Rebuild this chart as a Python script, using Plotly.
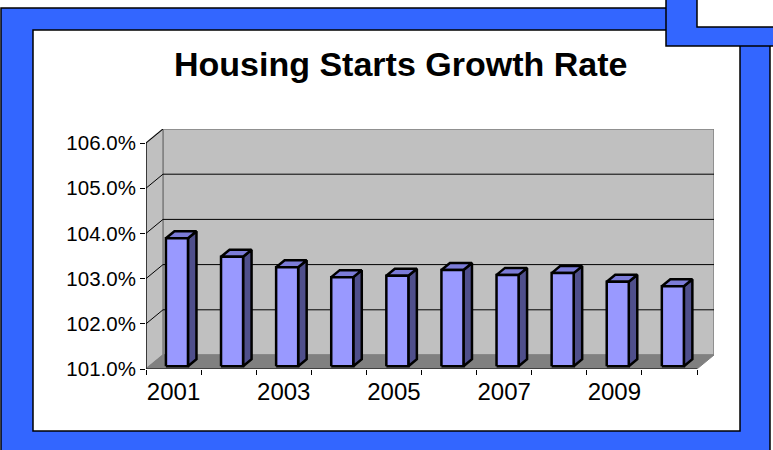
import plotly.graph_objects as go

# ---- data -------------------------------------------------------------
years = ["2001", "2002", "2003", "2004", "2005", "2006", "2007", "2008", "2009", "2010"]
growth = [103.83, 103.42, 103.19, 102.97, 103.00, 103.13, 103.02, 103.06, 102.87, 102.77]
y_ticks = [101, 102, 103, 104, 105, 106]
y_tick_text = [f"{v:.1f}%" for v in y_ticks]

# ---- geometry of the pseudo-3D box -------------------------------------
W, H = 773, 450
CAT_PX = 55.1          # pixels per category along the front axis
UNIT_PX = 45.2         # pixels per 1 % along the value axis
DX = 17 / CAT_PX       # depth offset of the back wall, in category units
DY = 14 / UNIT_PX      # depth offset of the back wall, in value units
Y0, Y1 = y_ticks[0], y_ticks[-1]
N = len(years)
FRONT_X_PX, FRONT_Y_PX = 146, 369

x_dom = [FRONT_X_PX / W, (FRONT_X_PX + CAT_PX * (N + DX)) / W]
y_dom = [1 - FRONT_Y_PX / H, 1 - (FRONT_Y_PX - UNIT_PX * (Y1 - Y0 + DY)) / H]

BLUE = "#3366FF"
FRONT = "#9999FF"
SIDE = "#4F4F8C"
TOP = "#7C7CD8"
WALL = "#C0C0C0"
FLOOR = "#808080"
FONT = "Arial, Liberation Sans, Helvetica, sans-serif"

fig = go.Figure()


def poly(xs, ys, fill, line_color, line_width):
    fig.add_trace(go.Scatter(
        x=xs, y=ys, mode="lines", fill="toself", fillcolor=fill,
        line=dict(color=line_color, width=line_width),
        hoverinfo="skip", showlegend=False,
    ))


def seg(xs, ys, color, width):
    fig.add_trace(go.Scatter(
        x=xs, y=ys, mode="lines", line=dict(color=color, width=width),
        hoverinfo="skip", showlegend=False, connectgaps=False,
    ))


# back wall, side wall and floor
poly([DX, N + DX, N + DX, DX, DX], [Y0 + DY, Y0 + DY, Y1 + DY, Y1 + DY, Y0 + DY], WALL, "#808080", 1.5)
poly([0, DX, DX, 0, 0], [Y0, Y0 + DY, Y1 + DY, Y1, Y0], WALL, "#808080", 1.5)
poly([0, N, N + DX, DX, 0], [Y0, Y0, Y0 + DY, Y0 + DY, Y0], FLOOR, FLOOR, 1)

# gridlines: across the back wall and diagonally over the side wall
gx, gy = [], []
for v in y_ticks[1:-1]:
    gx += [DX, N + DX, None]
    gy += [v + DY, v + DY, None]
for v in y_ticks[1:]:
    gx += [0, DX, None]
    gy += [v, v + DY, None]
seg(gx, gy, "#000000", 1)

# front axis lines
seg([0, 0], [Y0, Y1], "#000000", 1.2)
seg([0, N], [Y0, Y0], "#000000", 1.2)

# bars: right side, top, then front face
d0, d1 = 0.2, 0.7
half = 0.2
ox0, oy0 = d0 * DX, d0 * DY
ox1, oy1 = d1 * DX, d1 * DY
sx, sy, tx, ty, fx, fy = [], [], [], [], [], []
for i, v in enumerate(growth):
    x0, x1 = i + 0.5 - half, i + 0.5 + half
    sx += [x1 + ox0, x1 + ox1, x1 + ox1, x1 + ox0, x1 + ox0, None]
    sy += [Y0 + oy0, Y0 + oy1, v + oy1, v + oy0, Y0 + oy0, None]
    tx += [x0 + ox0, x1 + ox0, x1 + ox1, x0 + ox1, x0 + ox0, None]
    ty += [v + oy0, v + oy0, v + oy1, v + oy1, v + oy0, None]
    fx += [x0 + ox0, x1 + ox0, x1 + ox0, x0 + ox0, x0 + ox0, None]
    fy += [Y0 + oy0, Y0 + oy0, v + oy0, v + oy0, Y0 + oy0, None]
poly(sx, sy, SIDE, "#000000", 2.5)
poly(tx, ty, TOP, "#000000", 2.5)
poly(fx, fy, FRONT, "#000000", 2.5)


# ---- frame around the chart (pixel positions -> paper coordinates) ----
def px_rect(x0, y0, x1, y1, fill, line_w=1.5):
    return dict(type="rect", xref="paper", yref="paper",
                x0=x0 / W, x1=x1 / W, y0=1 - y1 / H, y1=1 - y0 / H,
                fillcolor=fill, line=dict(color="#000000", width=line_w),
                layer="below")


shapes = [
    px_rect(1, 8, 770, 455, BLUE),
    px_rect(33, 30, 740, 431, "#FFFFFF"),
    px_rect(666, -5, 780, 46, BLUE),
    px_rect(697, -5, 780, 27, "#FFFFFF"),
]

fig.update_layout(
    width=W, height=H, autosize=False,
    margin=dict(l=0, r=0, t=0, b=0, pad=0),
    paper_bgcolor="#FFFFFF",
    plot_bgcolor="rgba(0,0,0,0)",
    shapes=shapes,
    showlegend=False,
    font=dict(family=FONT, color="#000000"),
    annotations=[dict(
        text="<b>Housing Starts Growth Rate</b>", xref="paper", yref="paper",
        x=400 / W, y=1 - 64 / H, xanchor="center", yanchor="middle",
        showarrow=False, font=dict(family=FONT, size=34, color="#000000"),
    )],
    xaxis=dict(
        domain=x_dom, range=[0, N + DX], fixedrange=True, automargin=False,
        showgrid=False, zeroline=False, showline=False,
        tickmode="array", tickvals=[i + 0.5 for i in range(0, N, 2)],
        ticktext=years[::2], ticks="outside", ticklen=1,
        tickcolor="rgba(0,0,0,0)", tickfont=dict(size=24, family=FONT),
        minor=dict(tickmode="array", tickvals=list(range(N + 1)),
                   ticks="outside", ticklen=5, tickcolor="#000000", tickwidth=1),
    ),
    yaxis=dict(
        domain=y_dom, range=[Y0, Y1 + DY], fixedrange=True, automargin=False,
        showgrid=False, zeroline=False, showline=False,
        tickmode="array", tickvals=y_ticks, ticktext=y_tick_text,
        ticks="outside", ticklen=5, tickcolor="#000000", tickwidth=1,
        tickfont=dict(size=20.5, family=FONT),
    ),
)

fig.write_html("out.html", config={"responsive": False})
